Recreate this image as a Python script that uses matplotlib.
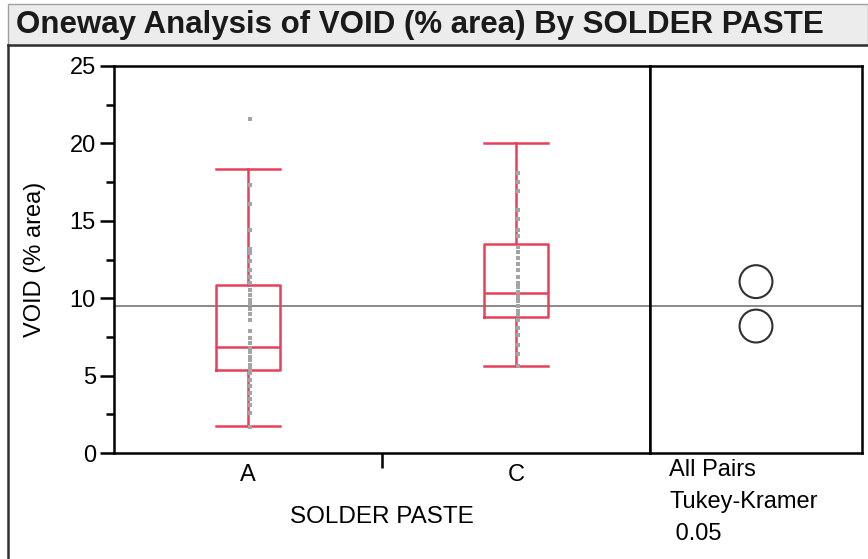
import matplotlib.pyplot as plt
from matplotlib.patches import Rectangle
from matplotlib.lines import Line2D

# values
groups = ["A", "C"]
void_a = [21.6, 17.3, 16.1, 14.4, 13.2, 12.9, 12.4, 11.8, 11.4, 11.0, 10.5, 10.2, 9.9,
          9.6, 9.3, 9.0, 8.6, 7.9, 7.4, 7.1, 6.8, 6.5, 6.2, 6.0, 5.7, 5.4, 5.2, 4.7,
          4.3, 3.9, 3.5, 3.1, 2.6, 1.7]
void_c = [18.1, 17.5, 16.9, 15.7, 15.1, 14.4, 14.0, 13.3, 13.0, 12.6, 12.2, 11.8, 11.4,
          11.0, 10.7, 10.4, 10.1, 9.8, 9.5, 9.2, 8.9, 8.6, 8.1, 7.6, 7.0, 6.4, 5.6]
box_low = [1.77, 5.62]
box_q1 = [5.36, 8.8]
box_med = [6.87, 10.33]
box_q3 = [10.85, 13.5]
box_high = [18.35, 20.0]
grand_mean = 9.5
group_means = [8.2, 11.07]

red = "#e8405a"

fig = plt.figure(figsize=(8.68, 5.59), dpi=100)
plt.rcParams['font.family'] = ['Liberation Sans', 'DejaVu Sans']

W, H = 868, 559

def fx(px):
    return px / W

def fy(py):
    return 1 - py / H

# title bar
fig.patches.append(Rectangle((fx(8), fy(45)), fx(868 - 8), 41 / H, transform=fig.transFigure,
                             facecolor="#ececec", edgecolor="#a0a0a0", lw=1))
fig.lines.append(Line2D([fx(8), fx(868)], [fy(45), fy(45)], transform=fig.transFigure,
                        color="#303030", lw=1.8))
fig.lines.append(Line2D([fx(8), fx(8)], [fy(45), 0], transform=fig.transFigure,
                        color="#303030", lw=1.8))
fig.text(fx(16), fy(25), "Oneway Analysis of VOID (% area) By SOLDER PASTE",
         weight="bold", fontsize=22.5, va="center", ha="left", color="#1a1a1a")

ax = fig.add_axes([fx(114), fy(453), fx(650 - 114), (453 - 66) / H])
ax2 = fig.add_axes([fx(650), fy(453), fx(862 - 650), (453 - 66) / H])

# points, drawn a touch right of the whisker like in JMP
ax.scatter([0.006] * len(void_a), void_a, marker="s", s=9, color="#a4a4a4", zorder=4, lw=0)
ax.scatter([1.006] * len(void_c), void_c, marker="s", s=9, color="#a4a4a4", zorder=4, lw=0)

stats = []
for i in range(len(groups)):
    stats.append({"whislo": box_low[i], "q1": box_q1[i], "med": box_med[i],
                  "q3": box_q3[i], "whishi": box_high[i], "fliers": []})
ax.bxp(stats, positions=[0, 1], widths=0.24, showfliers=False,
       boxprops=dict(color=red, lw=1.8), medianprops=dict(color=red, lw=1.8),
       whiskerprops=dict(color=red, lw=1.8), capprops=dict(color=red, lw=1.8),
       capwidths=0.24, zorder=3)

ax.axhline(grand_mean, color="#808080", lw=1.3, zorder=1)
ax.set_xlim(-0.5, 1.5)
ax.set_ylim(0, 25)
ax.set_yticks([0, 5, 10, 15, 20, 25])
ax.set_yticks([2.5, 7.5, 12.5, 17.5, 22.5], minor=True)
ax.set_xticks([0, 1], groups)
ax.set_xticks([0.5], minor=True)
ax.tick_params(axis="x", which="major", length=0, pad=8, labelsize=17)
ax.tick_params(axis="x", which="minor", length=11, width=1.8)
ax.tick_params(axis="y", which="major", length=10, width=1.8, labelsize=17, pad=3)
ax.tick_params(axis="y", which="minor", length=6, width=1.8)
ax.set_xlabel("SOLDER PASTE", fontsize=17.5, labelpad=14)
ax.set_ylabel("VOID (% area)", fontsize=17, labelpad=17)
for s in ax.spines.values():
    s.set_linewidth(1.8)

# comparison circles
ax2.axhline(grand_mean, color="#808080", lw=1.3, zorder=1)
ax2.scatter([0.5, 0.5], group_means, s=560, facecolors="none", edgecolors="#303030", lw=1.5)
ax2.set_xlim(0, 1)
ax2.set_ylim(0, 25)
ax2.set_xticks([])
ax2.set_yticks([])
for s in ax2.spines.values():
    s.set_linewidth(1.8)
ax2.text(0.09, -0.015, "All Pairs\nTukey-Kramer\n 0.05", transform=ax2.transAxes,
         va="top", ha="left", fontsize=17, linespacing=1.6)

fig.savefig("out.png", dpi=100)
